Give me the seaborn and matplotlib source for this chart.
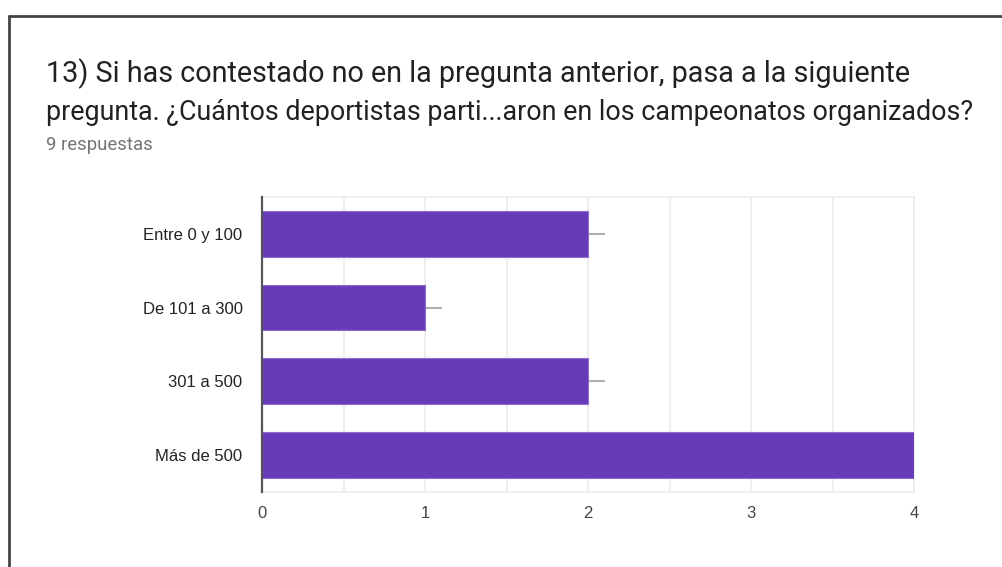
import matplotlib
matplotlib.use("Agg")
import matplotlib.pyplot as plt
import seaborn as sns
import pandas as pd
from matplotlib.lines import Line2D
from matplotlib.ticker import MultipleLocator

# Datos
categorias = ["Entre 0 y 100", "De 101 a 300", "301 a 500", "Más de 500"]
respuestas = [2, 1, 2, 4]
ticks_x = [0, 1, 2, 3, 4]

titulo_1 = "13) Si has contestado no en la pregunta anterior, pasa a la siguiente"
titulo_2 = "pregunta. ¿Cuántos deportistas parti...aron en los campeonatos organizados?"
subtitulo = "9 respuestas"

df = pd.DataFrame({"categoria": categorias, "respuestas": respuestas})

sns.set_style("white")
plt.rcParams["font.family"] = ["Liberation Sans", "DejaVu Sans"]

fig = plt.figure(figsize=(10.02, 5.67), dpi=100)
ax = fig.add_axes([0.2615, 0.1323, 0.6507, 0.5203])

sns.barplot(data=df, x="respuestas", y="categoria", orient="h",
            color="#673AB7", saturation=1, width=0.62,
            edgecolor="#8f6ad0", linewidth=0.8, ax=ax, zorder=3)

# pequeñas lineas grises al final de cada barra
ax.hlines(range(len(categorias)), respuestas, [v + 0.105 for v in respuestas],
          color="#b0b0b0", linewidth=1.5, zorder=2)

ax.set_xlim(0, 4)
ax.set_ylim(len(categorias) - 0.5, -0.5)
ax.set_xticks(ticks_x)
ax.xaxis.set_minor_locator(MultipleLocator(0.5))
ax.grid(axis="x", which="both", color="#ececec", linewidth=1.2, zorder=0)
ax.set_axisbelow(True)
ax.set_xlabel("")
ax.set_ylabel("")
ax.tick_params(axis="x", length=0, labelsize=12, labelcolor="#444444", pad=10)
ax.tick_params(axis="y", length=0, labelsize=12, labelcolor="#222222", pad=14)
ax.tick_params(which="minor", length=0)

for side in ["top", "right", "bottom"]:
    ax.spines[side].set_color("#ececec")
    ax.spines[side].set_linewidth(1.2)
ax.spines["left"].set_color("#555555")
ax.spines["left"].set_linewidth(1.6)
ax.spines["left"].set_zorder(5)

fig.text(0.046, 0.855, titulo_1, fontsize=20.7, family=["Roboto", "DejaVu Sans"],
         color="#212121", va="baseline")
fig.text(0.046, 0.788, titulo_2, fontsize=19.4, family=["Roboto", "DejaVu Sans"],
         color="#212121", va="baseline")
fig.text(0.046, 0.7354, subtitulo, fontsize=13.4, family=["Roboto", "DejaVu Sans"],
         color="#757575", va="baseline")

# marco de la captura
fig.add_artist(Line2D([0.009, 1.0], [0.972, 0.972], color="#444444", linewidth=2))
fig.add_artist(Line2D([0.009, 0.009], [0.0, 0.972], color="#444444", linewidth=2))

fig.savefig("out.png", dpi=100, facecolor="white")
